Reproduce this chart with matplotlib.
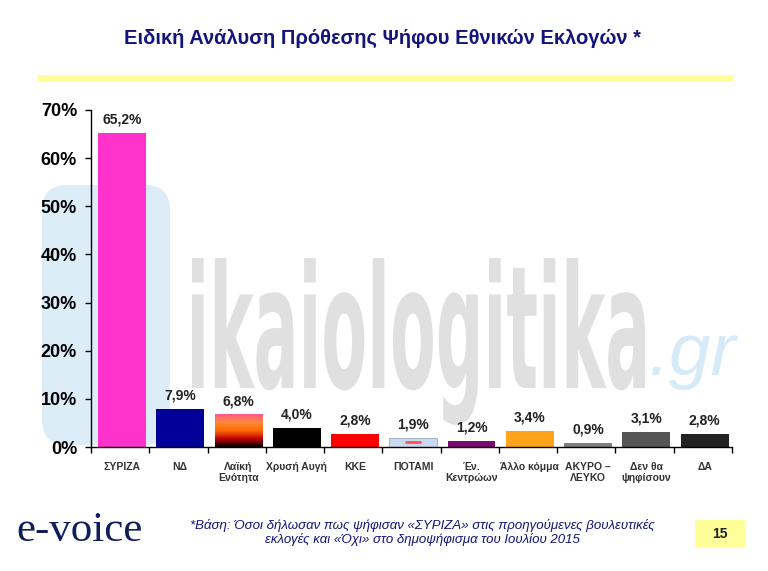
import numpy as np
import matplotlib
matplotlib.use("Agg")
import matplotlib.pyplot as plt
from matplotlib.colors import LinearSegmentedColormap
from matplotlib.patches import Rectangle, FancyBboxPatch, PathPatch
from matplotlib.textpath import TextPath
from matplotlib.font_manager import FontProperties
from matplotlib.transforms import Affine2D

# ---- data ----
categories = ["ΣΥΡΙΖΑ", "ΝΔ", "Λαϊκή\nΕνότητα", "Χρυσή Αυγή", "ΚΚΕ", "ΠΟΤΑΜΙ",
              "Έν.\nΚεντρώων", "Άλλο κόμμα", "ΑΚΥΡΟ –\nΛΕΥΚΟ", "Δεν θα\nψηφίσουν", "ΔΑ"]
values = [65.2, 7.9, 6.8, 4.0, 2.8, 1.9, 1.2, 3.4, 0.9, 3.1, 2.8]
bar_colors = ["#ff33cc", "#000099", "#ff5a5a", "#000000", "#ff0000", "#c9d9ee",
              "#7a0a6e", "#ffa31a", "#7f7f7f", "#555555", "#222222"]
yticks = [0, 10, 20, 30, 40, 50, 60, 70]

TITLE = "Ειδική Ανάλυση Πρόθεσης Ψήφου Εθνικών Εκλογών *"
NOTE = ("*Βάση: Όσοι δήλωσαν πως ψήφισαν «ΣΥΡΙΖΑ» στις προηγούμενες βουλευτικές\n"
        "εκλογές και «Όχι» στο δημοψήφισμα του Ιουλίου 2015")
NAVY = "#14147a"

plt.rcParams["font.family"] = ["Liberation Sans", "DejaVu Sans"]

fig = plt.figure(figsize=(7.68, 5.71), dpi=100)
fig.patch.set_facecolor("white")

# overlay axes in pixel coords (y down) for watermark, title and footer
wm = fig.add_axes([0, 0, 1, 1], zorder=0)
wm.set_xlim(0, 768)
wm.set_ylim(571, 0)
wm.axis("off")

# watermark: light blue tile + squeezed grey lettering
wm.add_patch(FancyBboxPatch((42, 185), 128, 260, boxstyle="round,pad=0,rounding_size=25",
                            facecolor="#dcedf8", edgecolor="none"))
tp = TextPath((0, 0), "ikaiologitika", size=1,
              prop=FontProperties(family="DejaVu Sans", weight="bold"))
ext = tp.get_extents()
sx = 453 / ext.width
sy = 130 / ext.y1
wm.add_patch(PathPatch(tp, transform=Affine2D().translate(-ext.x0, 0).scale(sx, -sy)
                       .translate(192, 388) + wm.transData,
                       facecolor="#e0e0e0", edgecolor="none"))
wm.text(648, 375, ".gr", fontsize=54, color="#d6eaf7",
        ha="left", va="baseline", style="italic")

# title and yellow band
wm.text(382, 38, TITLE, fontsize=14.5, fontweight="bold", color=NAVY,
        ha="center", va="center")
wm.add_patch(Rectangle((38, 75), 695, 7, facecolor="#ffff99", edgecolor="none"))

# footer
wm.text(16, 531, "e-voice", fontsize=31, family="Liberation Serif", color="#0f1f5c",
        ha="left", va="center")
wm.text(422, 533, NOTE, fontsize=9.5, style="italic", color=NAVY,
        ha="center", va="center", linespacing=1.1)
wm.add_patch(Rectangle((695, 520), 50, 28, facecolor="#ffff99", edgecolor="none"))
wm.text(720, 534, "15", fontsize=10, fontweight="bold", color="#222222",
        ha="center", va="center")

# ---- bar chart ----
ax = fig.add_axes([91 / 768, 1 - 447 / 571, (732 - 91) / 768, (447 - 110) / 571], zorder=1)
ax.patch.set_alpha(0)
x = np.arange(len(categories))
bars = ax.bar(x + 0.03, values, width=0.82, color=bar_colors, edgecolor="none", zorder=2)

# gradient fill for Λαϊκή Ενότητα
grad = LinearSegmentedColormap.from_list(
    "le", ["#000000", "#c0000a", "#ff6a00", "#ff8a3a", "#ff5a8a"])
b = bars[2]
im = ax.imshow(np.linspace(0, 1, 100).reshape(-1, 1), cmap=grad, aspect="auto",
               origin="lower", extent=[b.get_x(), b.get_x() + b.get_width(), 0, b.get_height()],
               zorder=3)
im.set_clip_path(b)

# small red mark inside ΠΟΤΑΜΙ bar
p = bars[5]
ax.plot([p.get_x() + p.get_width() * 0.35, p.get_x() + p.get_width() * 0.65],
        [p.get_height() * 0.5] * 2, color="#ff5060", lw=2, zorder=4, solid_capstyle="round")
p.set_edgecolor("#9aa8bb")
p.set_linewidth(0.6)

for xi, v in zip(x, values):
    ax.text(xi + 0.03, v + 1.3, f"{v:.1f}%".replace(".", ","), ha="center", va="bottom",
            fontsize=10, fontweight="bold", color="#222222")

ax.set_xlim(-0.5, len(categories) - 0.5)
ax.set_ylim(0, 70)
ax.set_yticks(yticks)
ax.set_yticklabels([f"{t}%" for t in yticks], fontsize=13, fontweight="bold")
ax.set_xticks(np.arange(len(categories) + 1) - 0.5)
ax.set_xticklabels([])
ax.tick_params(axis="x", direction="out", length=4, width=1)
ax.tick_params(axis="y", direction="out", length=4, width=1, pad=6)
for xi, c in zip(x, categories):
    ax.text(xi + 0.03, -3.2, c, ha="center", va="top", fontsize=7.5, fontweight="bold",
            color="#333333", linespacing=1.1)
for s in ["top", "right"]:
    ax.spines[s].set_visible(False)
ax.spines["left"].set_linewidth(1)
ax.spines["bottom"].set_linewidth(1)

fig.savefig("out.png", dpi=100)
